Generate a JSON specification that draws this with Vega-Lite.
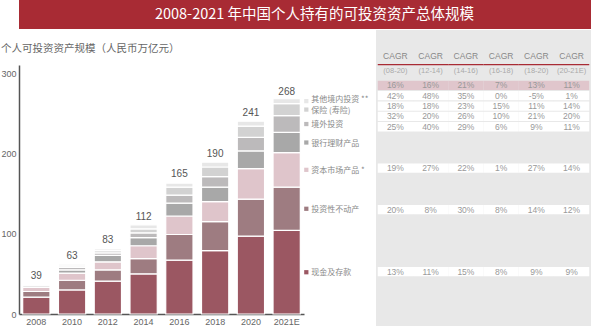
{
  "$schema": "https://vega.github.io/schema/vega-lite/v6.json",
  "padding": 0,
  "spacing": 0,
  "config": {
    "view": {"stroke": null},
    "font": "Liberation Sans",
    "axis": {"grid": false}
  },
  "datasets": {
    "assets": [
      {"year": "2008", "category": "现金及存款", "value": 21},
      {"year": "2008", "category": "投资性不动产", "value": 7},
      {"year": "2008", "category": "资本市场产品 *", "value": 5},
      {"year": "2008", "category": "银行理财产品", "value": 2},
      {"year": "2008", "category": "境外投资", "value": 1},
      {"year": "2008", "category": "保险 (寿险)", "value": 1},
      {"year": "2008", "category": "其他境内投资 **", "value": 1},
      {"year": "2010", "category": "现金及存款", "value": 30},
      {"year": "2010", "category": "投资性不动产", "value": 12},
      {"year": "2010", "category": "资本市场产品 *", "value": 9},
      {"year": "2010", "category": "银行理财产品", "value": 4},
      {"year": "2010", "category": "境外投资", "value": 3},
      {"year": "2010", "category": "保险 (寿险)", "value": 2},
      {"year": "2010", "category": "其他境内投资 **", "value": 2},
      {"year": "2012", "category": "现金及存款", "value": 41},
      {"year": "2012", "category": "投资性不动产", "value": 14},
      {"year": "2012", "category": "资本市场产品 *", "value": 10},
      {"year": "2012", "category": "银行理财产品", "value": 8},
      {"year": "2012", "category": "境外投资", "value": 3},
      {"year": "2012", "category": "保险 (寿险)", "value": 3},
      {"year": "2012", "category": "其他境内投资 **", "value": 2},
      {"year": "2014", "category": "现金及存款", "value": 50},
      {"year": "2014", "category": "投资性不动产", "value": 19},
      {"year": "2014", "category": "资本市场产品 *", "value": 16},
      {"year": "2014", "category": "银行理财产品", "value": 10},
      {"year": "2014", "category": "境外投资", "value": 6},
      {"year": "2014", "category": "保险 (寿险)", "value": 5},
      {"year": "2014", "category": "其他境内投资 **", "value": 5},
      {"year": "2016", "category": "现金及存款", "value": 67},
      {"year": "2016", "category": "投资性不动产", "value": 32},
      {"year": "2016", "category": "资本市场产品 *", "value": 23},
      {"year": "2016", "category": "银行理财产品", "value": 16},
      {"year": "2016", "category": "境外投资", "value": 10},
      {"year": "2016", "category": "保险 (寿险)", "value": 10},
      {"year": "2016", "category": "其他境内投资 **", "value": 5},
      {"year": "2018", "category": "现金及存款", "value": 79},
      {"year": "2018", "category": "投资性不动产", "value": 36},
      {"year": "2018", "category": "资本市场产品 *", "value": 25},
      {"year": "2018", "category": "银行理财产品", "value": 18},
      {"year": "2018", "category": "境外投资", "value": 13},
      {"year": "2018", "category": "保险 (寿险)", "value": 12},
      {"year": "2018", "category": "其他境内投资 **", "value": 6},
      {"year": "2020", "category": "现金及存款", "value": 97},
      {"year": "2020", "category": "投资性不动产", "value": 46},
      {"year": "2020", "category": "资本市场产品 *", "value": 38},
      {"year": "2020", "category": "银行理财产品", "value": 22},
      {"year": "2020", "category": "境外投资", "value": 17},
      {"year": "2020", "category": "保险 (寿险)", "value": 14},
      {"year": "2020", "category": "其他境内投资 **", "value": 6},
      {"year": "2021E", "category": "现金及存款", "value": 104},
      {"year": "2021E", "category": "投资性不动产", "value": 54},
      {"year": "2021E", "category": "资本市场产品 *", "value": 43},
      {"year": "2021E", "category": "银行理财产品", "value": 25},
      {"year": "2021E", "category": "境外投资", "value": 21},
      {"year": "2021E", "category": "保险 (寿险)", "value": 15},
      {"year": "2021E", "category": "其他境内投资 **", "value": 6}
    ],
    "totals": [
      {"year": "2008", "total": 39},
      {"year": "2010", "total": 63},
      {"year": "2012", "total": 83},
      {"year": "2014", "total": 112},
      {"year": "2016", "total": 165},
      {"year": "2018", "total": 190},
      {"year": "2020", "total": 241},
      {"year": "2021E", "total": 268}
    ],
    "periods": [
      {"period": "(08-20)"},
      {"period": "(12-14)"},
      {"period": "(14-16)"},
      {"period": "(16-18)"},
      {"period": "(18-20)"},
      {"period": "(20-21E)"}
    ],
    "cagr": [
      {"category": "合计", "period": "(08-20)", "cagr": "16%"},
      {"category": "合计", "period": "(12-14)", "cagr": "16%"},
      {"category": "合计", "period": "(14-16)", "cagr": "21%"},
      {"category": "合计", "period": "(16-18)", "cagr": "7%"},
      {"category": "合计", "period": "(18-20)", "cagr": "13%"},
      {"category": "合计", "period": "(20-21E)", "cagr": "11%"},
      {"category": "其他境内投资 **", "period": "(08-20)", "cagr": "42%"},
      {"category": "其他境内投资 **", "period": "(12-14)", "cagr": "48%"},
      {"category": "其他境内投资 **", "period": "(14-16)", "cagr": "35%"},
      {"category": "其他境内投资 **", "period": "(16-18)", "cagr": "0%"},
      {"category": "其他境内投资 **", "period": "(18-20)", "cagr": "-5%"},
      {"category": "其他境内投资 **", "period": "(20-21E)", "cagr": "1%"},
      {"category": "保险 (寿险)", "period": "(08-20)", "cagr": "18%"},
      {"category": "保险 (寿险)", "period": "(12-14)", "cagr": "18%"},
      {"category": "保险 (寿险)", "period": "(14-16)", "cagr": "23%"},
      {"category": "保险 (寿险)", "period": "(16-18)", "cagr": "15%"},
      {"category": "保险 (寿险)", "period": "(18-20)", "cagr": "11%"},
      {"category": "保险 (寿险)", "period": "(20-21E)", "cagr": "14%"},
      {"category": "境外投资", "period": "(08-20)", "cagr": "32%"},
      {"category": "境外投资", "period": "(12-14)", "cagr": "20%"},
      {"category": "境外投资", "period": "(14-16)", "cagr": "26%"},
      {"category": "境外投资", "period": "(16-18)", "cagr": "10%"},
      {"category": "境外投资", "period": "(18-20)", "cagr": "21%"},
      {"category": "境外投资", "period": "(20-21E)", "cagr": "20%"},
      {"category": "银行理财产品", "period": "(08-20)", "cagr": "25%"},
      {"category": "银行理财产品", "period": "(12-14)", "cagr": "40%"},
      {"category": "银行理财产品", "period": "(14-16)", "cagr": "29%"},
      {"category": "银行理财产品", "period": "(16-18)", "cagr": "6%"},
      {"category": "银行理财产品", "period": "(18-20)", "cagr": "9%"},
      {"category": "银行理财产品", "period": "(20-21E)", "cagr": "11%"},
      {"category": "资本市场产品 *", "period": "(08-20)", "cagr": "19%"},
      {"category": "资本市场产品 *", "period": "(12-14)", "cagr": "27%"},
      {"category": "资本市场产品 *", "period": "(14-16)", "cagr": "22%"},
      {"category": "资本市场产品 *", "period": "(16-18)", "cagr": "1%"},
      {"category": "资本市场产品 *", "period": "(18-20)", "cagr": "27%"},
      {"category": "资本市场产品 *", "period": "(20-21E)", "cagr": "14%"},
      {"category": "投资性不动产", "period": "(08-20)", "cagr": "20%"},
      {"category": "投资性不动产", "period": "(12-14)", "cagr": "8%"},
      {"category": "投资性不动产", "period": "(14-16)", "cagr": "30%"},
      {"category": "投资性不动产", "period": "(16-18)", "cagr": "8%"},
      {"category": "投资性不动产", "period": "(18-20)", "cagr": "14%"},
      {"category": "投资性不动产", "period": "(20-21E)", "cagr": "12%"},
      {"category": "现金及存款", "period": "(08-20)", "cagr": "13%"},
      {"category": "现金及存款", "period": "(12-14)", "cagr": "11%"},
      {"category": "现金及存款", "period": "(14-16)", "cagr": "15%"},
      {"category": "现金及存款", "period": "(16-18)", "cagr": "8%"},
      {"category": "现金及存款", "period": "(18-20)", "cagr": "9%"},
      {"category": "现金及存款", "period": "(20-21E)", "cagr": "9%"}
    ]
  },
  "vconcat": [
    {
      "width": 591,
      "height": 29,
      "view": {"fill": "#a82b34", "stroke": null},
      "data": {"values": [{"t": "2008-2021 年中国个人持有的可投资资产总体规模"}]},
      "mark": {"type": "text", "fill": "#ffffff", "fontSize": 14.5, "font": "Noto Sans CJK SC", "baseline": "middle", "align": "center"},
      "encoding": {"text": {"field": "t"}}
    },
    {
      "spacing": 7,
      "hconcat": [
        {
          "spacing": 0,
          "vconcat": [
            {
              "width": 285,
              "height": 1,
              "data": {"values": [{"t": ""}]},
              "mark": {"type": "text", "fontSize": 1},
              "encoding": {"text": {"field": "t"}}
            },
            {
              "width": 285,
              "height": 249,
              "title": {
                "text": ["", "个人可投资资产规模（人民币万亿元）"],
                "anchor": "start",
                "frame": "bounds",
                "fontSize": 10.5,
                "lineHeight": 12,
                "offset": 11,
                "color": "#666666",
                "font": "Noto Sans CJK SC",
                "fontWeight": "normal"
              },
              "layer": [
                {
                  "data": {"name": "assets"},
                  "transform": [{"window": [{"op": "row_number", "as": "stackRank"}], "groupby": ["year"]}],
                  "mark": {"type": "bar", "stroke": "#ffffff", "strokeWidth": 1.2},
                  "encoding": {
                    "x": {
                      "field": "year", "type": "nominal",
                      "scale": {"paddingInner": 0.237, "paddingOuter": 0.103},
                      "axis": {"title": null, "labelAngle": 0, "ticks": false, "domainColor": "#555555", "domainWidth": 1.5, "labelColor": "#666666", "labelFontSize": 9, "labelPadding": 3}
                    },
                    "y": {
                      "field": "value", "type": "quantitative", "stack": "zero",
                      "scale": {"domain": [0, 310], "nice": false},
                      "axis": {"title": null, "values": [0, 100, 200, 300], "ticks": false, "domainColor": "#555555", "domainWidth": 1.5, "labelColor": "#666666", "labelFontSize": 9, "labelPadding": 3}
                    },
                    "color": {
                      "field": "category", "type": "nominal", "legend": null,
                      "scale": {
                        "domain": ["现金及存款", "投资性不动产", "资本市场产品 *", "银行理财产品", "境外投资", "保险 (寿险)", "其他境内投资 **"],
                        "range": ["#9b5762", "#9e7c81", "#dfc5cb", "#a8a8a8", "#bcbabb", "#d2d2d2", "#e7e7e7"]
                      }
                    },
                    "order": {"field": "stackRank", "type": "quantitative"}
                  }
                },
                {
                  "data": {"name": "totals"},
                  "mark": {"type": "text", "dy": -7, "fontSize": 10, "fill": "#555555", "baseline": "middle"},
                  "encoding": {
                    "x": {"field": "year", "type": "nominal"},
                    "y": {"field": "total", "type": "quantitative"},
                    "text": {"field": "total", "type": "quantitative"}
                  }
                },
                {
                  "data": {"name": "assets"},
                  "transform": [
                    {"window": [{"op": "row_number", "as": "stackRank"}], "groupby": ["year"]},
                    {"filter": "datum.year === '2021E'"}
                  ],
                  "mark": {"type": "square", "size": 18, "xOffset": 6, "opacity": 1},
                  "encoding": {
                    "x": {"field": "year", "type": "nominal", "bandPosition": 1},
                    "y": {"field": "value", "type": "quantitative", "stack": "zero", "bandPosition": 0.5},
                    "color": {"field": "category", "type": "nominal", "legend": null},
                    "order": {"field": "stackRank", "type": "quantitative"}
                  }
                },
                {
                  "data": {"name": "assets"},
                  "transform": [
                    {"window": [{"op": "row_number", "as": "stackRank"}], "groupby": ["year"]},
                    {"filter": "datum.year === '2021E'"}
                  ],
                  "mark": {"type": "text", "align": "left", "baseline": "middle", "dx": 11, "dy": 1, "fontSize": 8, "font": "Noto Sans CJK SC", "fill": "#888888"},
                  "encoding": {
                    "x": {"field": "year", "type": "nominal", "bandPosition": 1},
                    "y": {"field": "value", "type": "quantitative", "stack": "zero", "bandPosition": 0.5},
                    "detail": {"field": "category", "type": "nominal"},
                    "order": {"field": "stackRank", "type": "quantitative"},
                    "text": {"field": "category", "type": "nominal"},
                    "opacity": {"condition": {"test": "datum.category === '其他境内投资 **'", "value": 0}, "value": 1}
                  }
                },
                {
                  "data": {"name": "assets"},
                  "transform": [
                    {"window": [{"op": "row_number", "as": "stackRank"}], "groupby": ["year"]},
                    {"filter": "datum.year === '2021E'"}
                  ],
                  "mark": {"type": "text", "align": "left", "baseline": "middle", "dx": 11, "dy": -1.5, "fontSize": 8, "font": "Noto Sans CJK SC", "fill": "#888888"},
                  "encoding": {
                    "x": {"field": "year", "type": "nominal", "bandPosition": 1},
                    "y": {"field": "value", "type": "quantitative", "stack": "zero", "bandPosition": 0.5},
                    "detail": {"field": "category", "type": "nominal"},
                    "order": {"field": "stackRank", "type": "quantitative"},
                    "text": {"condition": {"test": "datum.category === '其他境内投资 **'", "field": "category", "type": "nominal"}, "value": ""}
                  }
                }
              ]
            }
          ]
        },
        {
          "width": 215,
          "height": 297,
          "view": {"fill": "#e8e8e8", "stroke": null},
          "layer": [
            {
              "data": {"name": "cagr"},
              "mark": {"type": "rect"},
              "encoding": {
                "x": {
                  "field": "period", "type": "nominal", "axis": null,
                  "scale": {"domain": ["(08-20)", "(12-14)", "(14-16)", "(16-18)", "(18-20)", "(20-21E)"], "paddingInner": 0, "paddingOuter": 0.05}
                },
                "y": {
                  "field": "category", "type": "nominal", "axis": null,
                  "scale": {
                    "domain": ["s0", "CAGR", "line", "period", "合计", "其他境内投资 **", "保险 (寿险)", "境外投资", "银行理财产品", "s9", "s10", "s11", "资本市场产品 *", "s13", "s14", "s15", "投资性不动产", "s17", "s18", "s19", "s20", "s21", "现金及存款", "s23", "s24", "s25", "s26"],
                    "paddingInner": 0.1, "paddingOuter": 0.9
                  }
                },
                "color": {"condition": {"test": "datum.category === '合计'", "value": "#e0c6cc"}, "value": "#ffffff"}
              }
            },
            {
              "data": {"name": "cagr"},
              "mark": {"type": "text", "fontSize": 8.5, "fill": "#999999", "baseline": "middle"},
              "encoding": {
                "x": {"field": "period", "type": "nominal"},
                "y": {"field": "category", "type": "nominal"},
                "text": {"field": "cagr", "type": "nominal"}
              }
            },
            {
              "data": {"name": "periods"},
              "mark": {"type": "text", "fontSize": 8.5, "fill": "#888888", "baseline": "middle", "dy": 2},
              "encoding": {
                "x": {"field": "period", "type": "nominal"},
                "y": {"datum": "CAGR", "type": "nominal"},
                "text": {"value": "CAGR"}
              }
            },
            {
              "data": {"name": "periods"},
              "mark": {"type": "rect", "height": 1.2, "color": "#a82b34"},
              "encoding": {
                "x": {"field": "period", "type": "nominal"},
                "y": {"datum": "line", "type": "nominal"}
              }
            },
            {
              "data": {"name": "periods"},
              "mark": {"type": "text", "fontSize": 7.5, "fill": "#aaaaaa", "baseline": "middle", "dy": -4},
              "encoding": {
                "x": {"field": "period", "type": "nominal"},
                "y": {"datum": "period", "type": "nominal"},
                "text": {"field": "period", "type": "nominal"}
              }
            }
          ]
        }
      ]
    }
  ]
}
